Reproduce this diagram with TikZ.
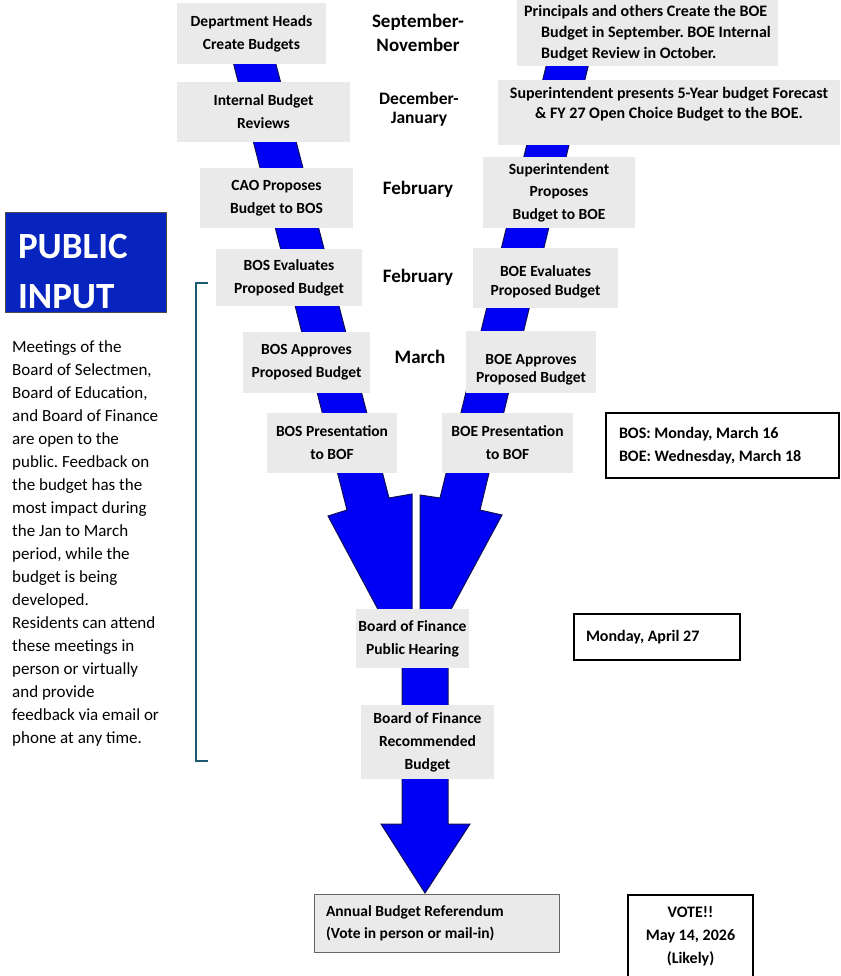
\documentclass[tikz,border=0pt]{standalone}
\usepackage{fontspec}
\setmainfont{Carlito}
\usepackage{xcolor}
\usepackage{tikz}
\usetikzlibrary{positioning}
\frenchspacing

\definecolor{flowblue}{RGB}{0,0,245}
\definecolor{flowedge}{RGB}{15,15,90}
\definecolor{stagegray}{RGB}{234,234,234}
\definecolor{inputblue}{RGB}{8,36,190}
\definecolor{bracketteal}{RGB}{30,90,115}

\begin{document}
\begin{tikzpicture}[
    x=1pt, y=-1pt,
    stage/.style={rectangle, fill=stagegray, inner sep=2pt, align=center, font=\fontsize{15.5}{23}\selectfont\bfseries},
    month/.style={align=center, font=\fontsize{19}{24}\selectfont\bfseries},
    datebox/.style={rectangle, draw=black, line width=1.2pt, fill=white, align=flush left, font=\fontsize{16}{23}\selectfont\bfseries},
    flow/.style={fill=flowblue, draw=flowedge, line width=1pt, line join=miter},
    bracket/.style={draw=bracketteal, line width=1.8pt}
]

\useasboundingbox (0,0) rectangle (840,976);

% Flow bands (behind the boxes)
\path [flow] (225,30) -- (267,30) -- (389,498) -- (412,494) -- (412,615) -- (381,615) -- (328,516) -- (347,510) -- cycle;
\path [flow] (555,30) -- (597,30) -- (480,510) -- (502,515) -- (448,615) -- (420,615) -- (420,495) -- (440,498) -- cycle;
\path [flow] (402,630) -- (448,630) -- (448,824) -- (470,824) -- (425,893) -- (381,824) -- (402,824) -- cycle;

% BOS side
\node (deptheads) [stage, minimum width=149pt, minimum height=61pt] at (251.5,33.5) {Department Heads\\Create Budgets};
\node (internal) [stage, minimum width=173pt, minimum height=60pt] at (263.5,112) {Internal Budget\\Reviews};
\node (caoprop) [stage, minimum width=153pt, minimum height=60pt] at (276.5,198) {CAO Proposes\\Budget to BOS};
\node (boseval) [stage, minimum width=146pt, minimum height=57pt] at (289,277.5) {BOS Evaluates\\Proposed Budget};
\node (bosappr) [stage, minimum width=127pt, minimum height=61pt] at (306.5,362.5) {BOS Approves\\Proposed Budget};
\node (bospres) [stage, minimum width=130pt, minimum height=60pt] at (332,443) {BOS Presentation\\to BOF};

% Months
\node (sepnov) [month] at (418,33) {September-\\November};
\node (decjan) [month, font=\fontsize{17.5}{19}\selectfont\bfseries] at (419,109) {December-\\January};
\node (feba) [month] at (418,189) {February};
\node (febb) [month] at (418,277) {February};
\node (march) [month] at (420,357) {March};

% BOE side
\node (principals) [stage, align=left, minimum width=261pt, minimum height=66pt, font=\fontsize{16}{21}\selectfont\bfseries] at (647.5,33) {Principals and others Create the BOE\\\hspace*{17pt}Budget in September. BOE Internal\\\hspace*{17pt}Budget Review in October.};
\node (forecast) [stage, minimum width=342pt, minimum height=65pt, font=\fontsize{16}{20}\selectfont\bfseries] at (669,112.5) {Superintendent presents 5-Year budget Forecast\\\& FY 27 Open Choice Budget to the BOE.\\~};
\node (supprop) [stage, minimum width=152pt, minimum height=71pt, font=\fontsize{15.5}{22.5}\selectfont\bfseries] at (559,192.5) {Superintendent\\Proposes\\Budget to BOE};
\node (boeeval) [stage, minimum width=145pt, minimum height=60pt, font=\fontsize{15.5}{19}\selectfont\bfseries] at (545.5,278) {\rule{0pt}{19pt}BOE Evaluates\\Proposed Budget};
\node (boeappr) [stage, minimum width=130pt, minimum height=62pt, font=\fontsize{15.5}{18}\selectfont\bfseries] at (531,362) {\strut\\BOE Approves\\Proposed Budget\\[-10pt]};
\node (boepres) [stage, minimum width=131pt, minimum height=60pt] at (507.5,443) {BOE Presentation\\to BOF};

% Board of Finance
\node (hearing) [stage, minimum width=105pt, minimum height=59pt] at (412.5,638.5) {Board of Finance\\Public Hearing};
\node (recommend) [stage, minimum width=133pt, minimum height=74pt] at (427.5,742) {Board of Finance\\Recommended\\Budget};
\node (referendum) [stage, draw=black!60, line width=1pt, align=flush left, text width=221pt, inner xsep=12pt, minimum height=58pt, font=\fontsize{15.5}{22}\selectfont\bfseries] at (436.5,923) {Annual Budget Referendum\\(Vote in person or mail-in)};

% Dates
\node (bosboedate) [datebox, text width=207pt, inner xsep=13pt, minimum height=65pt] at (722.5,445.5) {BOS: Monday, March 16\\BOE: Wednesday, March 18};
\node (aprildate) [datebox, text width=142pt, inner xsep=12pt, minimum height=46pt] at (657,637) {Monday, April 27};
\node (votedate) [datebox, align=center, minimum width=125pt, minimum height=82pt] at (690.5,936) {VOTE!!\\May 14, 2026\\(Likely)};

% Public input
\node (publicinput) [rectangle, fill=inputblue, draw=black!70, line width=1pt, text=white, align=left, text width=135pt, inner xsep=13pt, minimum height=99pt, font=\fontsize{37}{50}\selectfont\bfseries] at (85.5,262.5) {\rule{0pt}{42pt}PUBLIC\\INPUT};
\node (publicnote) [anchor=north west, inner sep=0pt, align=left, font=\fontsize{17}{23}\selectfont] at (12,340) {Meetings of the\\Board of Selectmen,\\Board of Education,\\and Board of Finance\\are open to the\\public. Feedback on\\the budget has the\\most impact during\\the Jan to March\\period, while the\\budget is being\\developed.\\Residents can attend\\these meetings in\\person or virtually\\and provide\\feedback via email or\\phone at any time.};

\draw [bracket] (208,283) -- (196,283) -- (196,761) -- (208,761);

\end{tikzpicture}
\end{document}
